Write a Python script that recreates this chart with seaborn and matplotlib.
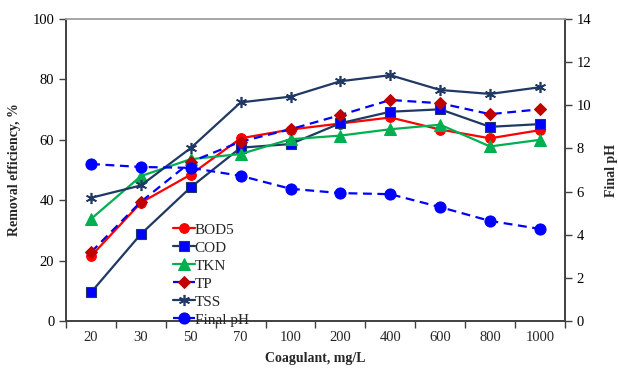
import numpy as np
import pandas as pd
import seaborn as sns
import matplotlib.pyplot as plt

# values
doses = ['20', '30', '50', '70', '100', '200', '400', '600', '800', '1000']
bod5 = [21.5, 39.2, 48.5, 60.5, 63.4, 65.4, 67.4, 63.4, 60.5, 63.2]
cod = [9.5, 28.8, 44.3, 57.4, 58.6, 65.5, 69.3, 70.1, 64.3, 65.2]
tkn = [33.8, 48.0, 53.6, 55.3, 60.2, 61.4, 63.5, 65.0, 57.8, 60.0]
tp = [22.8, 39.5, 52.7, 59.4, 63.5, 68.2, 73.2, 72.1, 68.5, 70.1]
tss = [40.8, 44.9, 57.3, 72.4, 74.3, 79.4, 81.4, 76.5, 75.2, 77.4]
final_ph = [7.28, 7.14, 7.10, 6.73, 6.13, 5.93, 5.88, 5.28, 4.64, 4.27]

df = pd.DataFrame({'dose': doses, 'BOD5': bod5, 'COD': cod, 'TKN': tkn,
                   'TP': tp, 'TSS': tss, 'pH': final_ph})

sns.set_style('ticks')
plt.rcParams['font.family'] = ['Liberation Serif', 'DejaVu Serif']

fig = plt.figure(figsize=(6.18, 3.70), dpi=100)
ax = fig.add_axes([0.107, 0.1324, 0.807, 0.8162])
ax2 = ax.twinx()

navy = '#1f3864'
lw = 1.6
ms = 7

sns.lineplot(data=df, x='dose', y='BOD5', ax=ax, sort=False, color='#ff0000', lw=lw,
             marker='o', ms=ms, mec='#ff0000', mfc='#ff0000', label='BOD5', legend=False)
sns.lineplot(data=df, x='dose', y='COD', ax=ax, sort=False, color=navy, lw=lw,
             marker='s', ms=ms, mec=navy, mfc='#0000ff', mew=0.8, label='COD', legend=False)
sns.lineplot(data=df, x='dose', y='TKN', ax=ax, sort=False, color='#00b050', lw=lw,
             marker='^', ms=ms + 1, mec='#00b050', mfc='#00b050', label='TKN', legend=False)
sns.lineplot(data=df, x='dose', y='TP', ax=ax, sort=False, color='#0000ff', lw=lw,
             linestyle=(0, (4, 2.5)), marker='D', ms=ms - 1, mec='#c00000', mfc='#c00000',
             label='TP', legend=False)
sns.lineplot(data=df, x='dose', y='TSS', ax=ax, sort=False, color=navy, lw=lw,
             marker=(6, 2, 0), ms=ms + 1, mec=navy, mew=1.2, label='TSS', legend=False)
sns.lineplot(data=df, x='dose', y='pH', ax=ax2, sort=False, color='#0000ff', lw=lw,
             linestyle=(0, (4, 2.5)), marker='o', ms=ms + 1, mec='#0000ff', mfc='#0000ff',
             label='Final pH', legend=False)

ax.set_xlim(-0.5, len(doses) - 0.5)
ax.set_ylim(0, 100)
ax2.set_ylim(0, 14)
ax.set_yticks(range(0, 101, 20))
ax2.set_yticks(range(0, 15, 2))

# tick marks between categories, labels centred on categories
ax.set_xticks(np.arange(-0.5, len(doses), 1.0))
ax.set_xticklabels([])
ax.set_xticks(range(len(doses)), minor=True)
ax.set_xticklabels(doses, minor=True)
ax.tick_params(axis='x', which='minor', length=0, labelsize=10.5, pad=7)
ax.tick_params(axis='x', which='major', length=5, width=1, colors='#404040')
ax.tick_params(axis='y', length=5, width=1, labelsize=10.5, colors='#404040', labelcolor='black')
ax2.tick_params(axis='y', length=5, width=1, labelsize=10.5, colors='#404040', labelcolor='black')

ax.set_xlabel('Coagulant, mg/L', fontweight='bold', fontsize=10, labelpad=6)
ax.set_ylabel('Removal efficiency, %', fontweight='bold', fontsize=10, labelpad=8)
ax2.set_ylabel('Final pH', fontweight='bold', fontsize=10, labelpad=10)

for a in (ax, ax2):
    for s in ('left', 'bottom', 'right'):
        a.spines[s].set_color('#404040')
        a.spines[s].set_linewidth(1.2)
    a.spines['top'].set_visible(True)
    a.spines['top'].set_color('#a6a6a6')
    a.spines['top'].set_linewidth(1.2)

h1, l1 = ax.get_legend_handles_labels()
h2, l2 = ax2.get_legend_handles_labels()
leg = ax2.legend(h1 + h2, l1 + l2, loc='upper left', bbox_to_anchor=(0.268, 0.418),
                 bbox_transform=fig.transFigure, frameon=False, fontsize=11,
                 handlelength=1.4, handletextpad=0.0, labelspacing=0.28, borderpad=0)

fig.savefig('out.png', dpi=100)
